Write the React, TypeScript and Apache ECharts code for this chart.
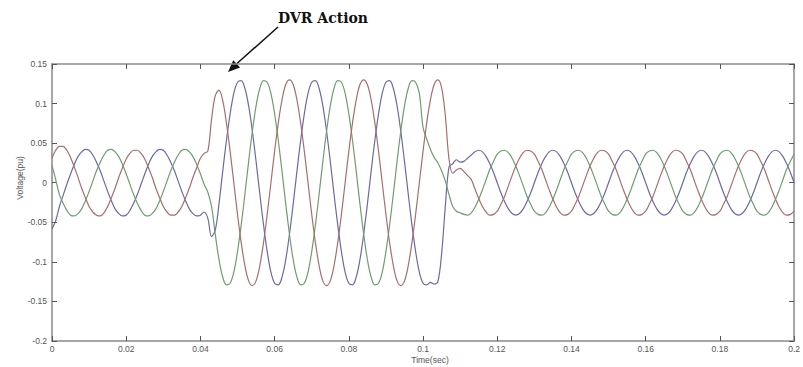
import React, { useEffect, useRef } from "react";
import * as echarts from "echarts";

// sampling instants in milliseconds (0 .. 200 ms, 1 ms apart)
const timeMs: number[] = Array.from({ length: 201 }, (_, i) => i);

// phase voltages (pu), one value per ms
const phaseRed: number[] = [
  0.031, 0.041, 0.046, 0.046, 0.041, 0.032, 0.020, 0.007, -0.007, -0.019, -0.030, -0.037, -0.041, -0.042, -0.038, -0.030, -0.019, -0.007, 0.007, 0.019,
  0.030, 0.037, 0.041, 0.041, 0.037, 0.030, 0.019, 0.007, -0.007, -0.019, -0.030, -0.037, -0.041, -0.041, -0.037, -0.030, -0.019, -0.007, 0.007, 0.019,
  0.031, 0.037, 0.040, 0.080, 0.110, 0.117, 0.104, 0.076, 0.040, 0.000, -0.040, -0.076, -0.105, -0.124, -0.130, -0.124, -0.105, -0.076, -0.040, 0.000,
  0.040, 0.076, 0.105, 0.124, 0.130, 0.124, 0.105, 0.076, 0.040, 0.000, -0.040, -0.076, -0.105, -0.124, -0.130, -0.124, -0.105, -0.076, -0.040, 0.000,
  0.040, 0.076, 0.105, 0.124, 0.130, 0.124, 0.105, 0.076, 0.040, 0.000, -0.040, -0.076, -0.105, -0.124, -0.130, -0.124, -0.105, -0.076, -0.040, 0.000,
  0.040, 0.076, 0.105, 0.124, 0.130, 0.120, 0.085, 0.030, 0.012, 0.016, 0.018, 0.014, 0.009, 0.004, -0.008, -0.020, -0.030, -0.037, -0.041, -0.040,
  -0.036, -0.027, -0.017, -0.004, 0.009, 0.021, 0.031, 0.038, 0.041, 0.040, 0.036, 0.027, 0.017, 0.004, -0.009, -0.021, -0.031, -0.038, -0.041, -0.040,
  -0.036, -0.027, -0.017, -0.004, 0.009, 0.021, 0.031, 0.038, 0.041, 0.040, 0.036, 0.027, 0.017, 0.004, -0.009, -0.021, -0.031, -0.038, -0.041, -0.040,
  -0.036, -0.027, -0.017, -0.004, 0.009, 0.021, 0.031, 0.038, 0.041, 0.040, 0.036, 0.027, 0.017, 0.004, -0.009, -0.021, -0.031, -0.038, -0.041, -0.040,
  -0.036, -0.027, -0.017, -0.004, 0.009, 0.021, 0.031, 0.038, 0.041, 0.040, 0.036, 0.027, 0.017, 0.004, -0.009, -0.021, -0.031, -0.038, -0.041, -0.040,
  -0.036,
];

const phaseBlue: number[] = [
  -0.058, -0.048, -0.030, -0.016, -0.002, 0.011, 0.023, 0.033, 0.039, 0.042, 0.041, 0.035, 0.026, 0.015, 0.002, -0.011, -0.023, -0.033, -0.039, -0.042,
  -0.041, -0.035, -0.026, -0.015, -0.002, 0.011, 0.023, 0.033, 0.039, 0.042, 0.041, 0.035, 0.026, 0.015, 0.002, -0.011, -0.023, -0.033, -0.039, -0.042,
  -0.041, -0.037, -0.045, -0.068, -0.060, -0.027, 0.014, 0.053, 0.087, 0.113, 0.127, 0.129, 0.119, 0.097, 0.065, 0.027, -0.014, -0.053, -0.087, -0.113,
  -0.127, -0.129, -0.119, -0.097, -0.065, -0.027, 0.014, 0.053, 0.087, 0.113, 0.127, 0.129, 0.119, 0.097, 0.065, 0.027, -0.014, -0.053, -0.087, -0.113,
  -0.127, -0.129, -0.119, -0.097, -0.065, -0.027, 0.014, 0.053, 0.087, 0.113, 0.127, 0.129, 0.119, 0.097, 0.065, 0.027, -0.014, -0.053, -0.087, -0.113,
  -0.127, -0.129, -0.126, -0.128, -0.125, -0.090, -0.030, 0.020, 0.024, 0.029, 0.026, 0.027, 0.031, 0.035, 0.039, 0.041, 0.039, 0.033, 0.024, 0.013,
  0.000, -0.013, -0.024, -0.033, -0.039, -0.041, -0.039, -0.033, -0.024, -0.013, 0.000, 0.013, 0.024, 0.033, 0.039, 0.041, 0.039, 0.033, 0.024, 0.013,
  0.000, -0.013, -0.024, -0.033, -0.039, -0.041, -0.039, -0.033, -0.024, -0.013, 0.000, 0.013, 0.024, 0.033, 0.039, 0.041, 0.039, 0.033, 0.024, 0.013,
  0.000, -0.013, -0.024, -0.033, -0.039, -0.041, -0.039, -0.033, -0.024, -0.013, 0.000, 0.013, 0.024, 0.033, 0.039, 0.041, 0.039, 0.033, 0.024, 0.013,
  0.000, -0.013, -0.024, -0.033, -0.039, -0.041, -0.039, -0.033, -0.024, -0.013, 0.000, 0.013, 0.024, 0.033, 0.039, 0.041, 0.039, 0.033, 0.024, 0.013,
  0.000,
];

const phaseGreen: number[] = [
  0.022, 0.004, -0.015, -0.026, -0.035, -0.041, -0.042, -0.039, -0.033, -0.023, -0.011, 0.002, 0.015, 0.026, 0.035, 0.041, 0.042, 0.039, 0.033, 0.023,
  0.011, -0.002, -0.015, -0.026, -0.035, -0.041, -0.042, -0.039, -0.033, -0.023, -0.011, 0.002, 0.015, 0.026, 0.035, 0.041, 0.042, 0.039, 0.033, 0.023,
  0.011, -0.002, -0.012, -0.030, -0.065, -0.097, -0.119, -0.129, -0.127, -0.113, -0.087, -0.053, -0.014, 0.027, 0.065, 0.097, 0.119, 0.129, 0.127, 0.113,
  0.087, 0.053, 0.014, -0.027, -0.065, -0.097, -0.119, -0.129, -0.127, -0.113, -0.087, -0.053, -0.014, 0.027, 0.065, 0.097, 0.119, 0.129, 0.127, 0.113,
  0.087, 0.053, 0.014, -0.027, -0.065, -0.097, -0.119, -0.129, -0.127, -0.113, -0.087, -0.053, -0.014, 0.027, 0.065, 0.097, 0.119, 0.129, 0.127, 0.113,
  0.070, 0.055, 0.042, 0.032, 0.025, 0.015, 0.002, -0.015, -0.030, -0.036, -0.038, -0.040, -0.041, -0.038, -0.031, -0.021, -0.009, 0.004, 0.017, 0.027,
  0.036, 0.040, 0.041, 0.038, 0.031, 0.021, 0.009, -0.004, -0.017, -0.027, -0.036, -0.040, -0.041, -0.038, -0.031, -0.021, -0.009, 0.004, 0.017, 0.027,
  0.036, 0.040, 0.041, 0.038, 0.031, 0.021, 0.009, -0.004, -0.017, -0.027, -0.036, -0.040, -0.041, -0.038, -0.031, -0.021, -0.009, 0.004, 0.017, 0.027,
  0.036, 0.040, 0.041, 0.038, 0.031, 0.021, 0.009, -0.004, -0.017, -0.027, -0.036, -0.040, -0.041, -0.038, -0.031, -0.021, -0.009, 0.004, 0.017, 0.027,
  0.036, 0.040, 0.041, 0.038, 0.031, 0.021, 0.009, -0.004, -0.017, -0.027, -0.036, -0.040, -0.041, -0.038, -0.031, -0.021, -0.009, 0.004, 0.017, 0.027,
  0.036,
];

const xLabel = "Time(sec)";
const yLabel = "Voltage(pu)";
const annotationText = "DVR Action";

const fmt = (v: number) => String(Math.round(v * 100) / 100);

export default function App() {
  const ref = useRef<HTMLDivElement>(null);

  useEffect(() => {
    if (!ref.current) return;
    const chart = echarts.init(ref.current, undefined, { renderer: "svg" });
    const toPairs = (arr: number[]) => timeMs.map((t, i) => [t / 1000, arr[i]]);
    const axisLine = { show: true, onZero: false, lineStyle: { color: "#8a8a8a", width: 1.5 } };
    const tick = { show: true, inside: true, length: 5, lineStyle: { color: "#555", width: 1 } };
    const label = { fontSize: 8.5, color: "#555", fontFamily: "Liberation Sans Narrow, Liberation Sans, sans-serif" };
    const lineSeries = (name: string, arr: number[], color: string) => ({
      name,
      type: "line",
      data: toPairs(arr),
      showSymbol: false,
      smooth: 0.35,
      lineStyle: { color, width: 1.2 },
      itemStyle: { color },
      z: 2,
    });
    chart.setOption({
      animation: false,
      backgroundColor: "#ffffff",
      grid: { left: 52, right: 2, top: 64, bottom: 26 },
      xAxis: [
        {
          type: "value",
          min: 0,
          max: 0.2,
          interval: 0.02,
          position: "bottom",
          axisLine,
          axisTick: tick,
          axisLabel: { ...label, margin: 3, formatter: fmt, showMinLabel: true, showMaxLabel: true },
          splitLine: { show: false },
        },
        {
          type: "value",
          min: 0,
          max: 0.2,
          interval: 0.02,
          position: "top",
          axisLine,
          axisTick: tick,
          axisLabel: { show: false },
          splitLine: { show: false },
        },
      ],
      yAxis: [
        {
          type: "value",
          min: -0.2,
          max: 0.15,
          interval: 0.05,
          position: "left",
          axisLine,
          axisTick: tick,
          axisLabel: { ...label, margin: 5, formatter: fmt },
          splitLine: { show: false },
        },
        {
          type: "value",
          min: -0.2,
          max: 0.15,
          interval: 0.05,
          position: "right",
          axisLine,
          axisTick: tick,
          axisLabel: { show: false },
          splitLine: { show: false },
        },
      ],
      series: [
        lineSeries("Phase B", phaseBlue, "#6a6aa6"),
        lineSeries("Phase C", phaseGreen, "#6f9d6f"),
        lineSeries("Phase A", phaseRed, "#a86e6e"),
      ],
      graphic: [
        {
          type: "text",
          x: 323,
          y: 18,
          style: {
            text: annotationText,
            textAlign: "center",
            textVerticalAlign: "middle",
            fontFamily: "DejaVu Serif, serif",
            fontWeight: "bold",
            fontSize: 14,
            fill: "#111",
          },
        },
        {
          type: "line",
          shape: { x1: 278, y1: 27, x2: 236.7, y2: 63.8 },
          style: { stroke: "#111", lineWidth: 1.5 },
        },
        {
          type: "polygon",
          shape: { points: [[228, 72], [240.1, 67.4], [233.3, 60.2]] },
          style: { fill: "#111" },
        },
        {
          type: "text",
          x: 20,
          y: 178,
          rotation: Math.PI / 2,
          style: {
            text: yLabel,
            textAlign: "center",
            textVerticalAlign: "middle",
            fontSize: 8.5,
            fill: "#555",
            fontFamily: "Liberation Sans Narrow, Liberation Sans, sans-serif",
          },
        },
        {
          type: "text",
          x: 430,
          y: 360,
          style: {
            text: xLabel,
            textAlign: "center",
            textVerticalAlign: "middle",
            fontSize: 8.5,
            fill: "#555",
            fontFamily: "Liberation Sans Narrow, Liberation Sans, sans-serif",
          },
        },
      ],
    });
    return () => chart.dispose();
  }, []);

  return (
    <div
      ref={ref}
      style={{ position: "fixed", left: 0, top: 0, width: 803, height: 367, background: "#fff" }}
    />
  );
}
